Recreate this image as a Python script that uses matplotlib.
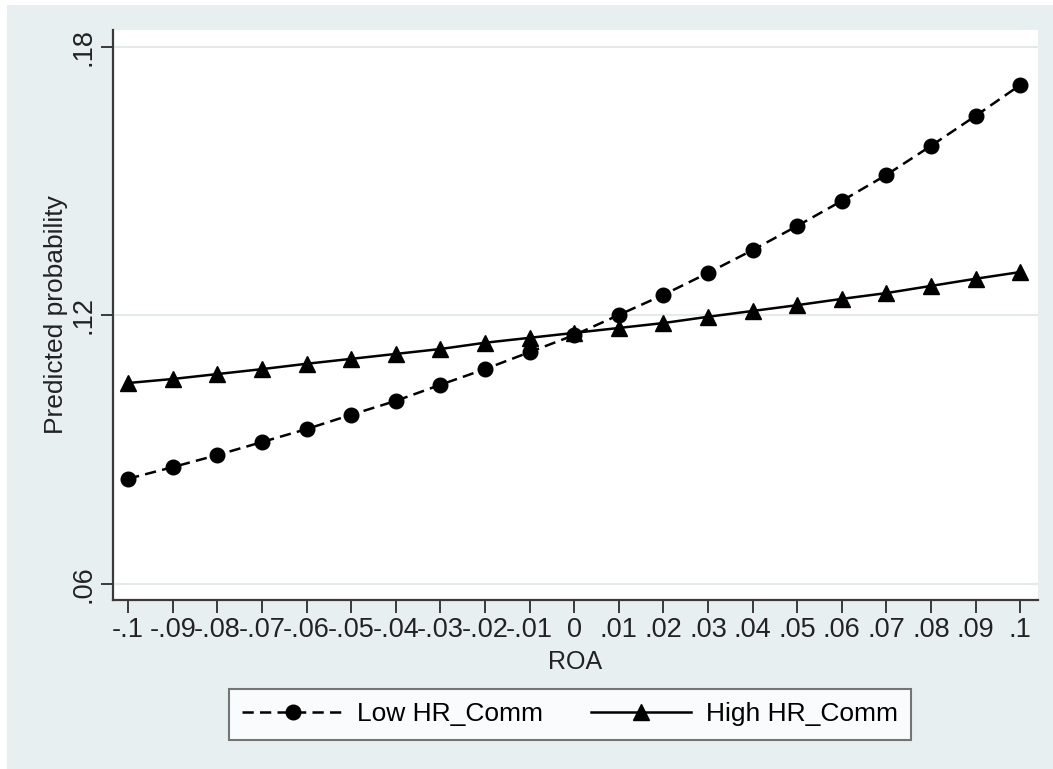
import matplotlib
matplotlib.use("Agg")
import matplotlib.pyplot as plt
from matplotlib.patches import Rectangle

plt.rcParams['font.family'] = ['Liberation Sans', 'DejaVu Sans']

# data
roa = [-0.10, -0.09, -0.08, -0.07, -0.06, -0.05, -0.04, -0.03, -0.02, -0.01,
       0.00, 0.01, 0.02, 0.03, 0.04, 0.05, 0.06, 0.07, 0.08, 0.09, 0.10]
low_hr = [0.0835, 0.0861, 0.0888, 0.0917, 0.0946, 0.0978, 0.1009, 0.1045,
          0.1080, 0.1118, 0.1156, 0.1201, 0.1246, 0.1295, 0.1346, 0.1400,
          0.1456, 0.1514, 0.1579, 0.1646, 0.1715]
high_hr = [0.1049, 0.1058, 0.1069, 0.1080, 0.1092, 0.1103, 0.1114, 0.1125,
           0.1139, 0.1150, 0.1161, 0.1172, 0.1183, 0.1197, 0.1210, 0.1223,
           0.1237, 0.1250, 0.1266, 0.1282, 0.1297]
xtick_labels = ['-.1', '-.09', '-.08', '-.07', '-.06', '-.05', '-.04', '-.03',
                '-.02', '-.01', '0', '.01', '.02', '.03', '.04', '.05', '.06',
                '.07', '.08', '.09', '.1']
yticks = [0.06, 0.12, 0.18]
ytick_labels = ['.06', '.12', '.18']

bg = '#e8eff1'
fig = plt.figure(figsize=(10.53, 7.69), dpi=100, facecolor='white')
fig.patches.append(Rectangle((7/1053, -0.01), 1, 1.01 - 5/769, transform=fig.transFigure,
                             facecolor=bg, edgecolor='none', zorder=-10))

ax = fig.add_axes([113/1053, 1 - 600/769, 925/1053, 570/769])
ax.set_facecolor('white')

for yv in yticks:
    ax.axhline(yv, color='#e4eaec', lw=1.5, zorder=0)

ax.plot(roa, low_hr, color='black', lw=1.8, dashes=(4.5, 2.5), marker='o',
        markersize=10.5, label='Low HR_Comm', zorder=3)
ax.plot(roa, high_hr, color='black', lw=1.8, marker='^', markersize=11,
        label='High HR_Comm', zorder=4)

ax.set_xlim(-0.1034, 0.104)
ax.set_ylim(0.0564, 0.1838)
ax.set_xticks(roa)
ax.set_xticklabels(xtick_labels)
ax.set_yticks(yticks)
ax.set_yticklabels(ytick_labels, rotation=90, va='center')

for s in ['top', 'right']:
    ax.spines[s].set_visible(False)
for s in ['left', 'bottom']:
    ax.spines[s].set_color('#3a3a3a')
    ax.spines[s].set_linewidth(1.6)

ax.tick_params(axis='both', length=9, width=1.4, color='#3a3a3a',
               labelcolor='#222222', labelsize=19.5, pad=3)

ax.set_xlabel('ROA', fontsize=18, color='#222222', labelpad=5)
ax.set_ylabel('Predicted probability', fontsize=19, color='#222222', labelpad=2)

leg = fig.legend(loc='center', bbox_to_anchor=(570/1053, 1 - 714.5/769),
                 ncol=2, fontsize=19, frameon=True, fancybox=False,
                 handlelength=3.8, handletextpad=0.55, columnspacing=1.8,
                 numpoints=1, borderpad=0.5, borderaxespad=0)
leg.get_frame().set_edgecolor('#555555')
leg.get_frame().set_linewidth(1.5)
leg.get_frame().set_facecolor('white')

fig.savefig('out.png', dpi=100, facecolor=fig.get_facecolor())
